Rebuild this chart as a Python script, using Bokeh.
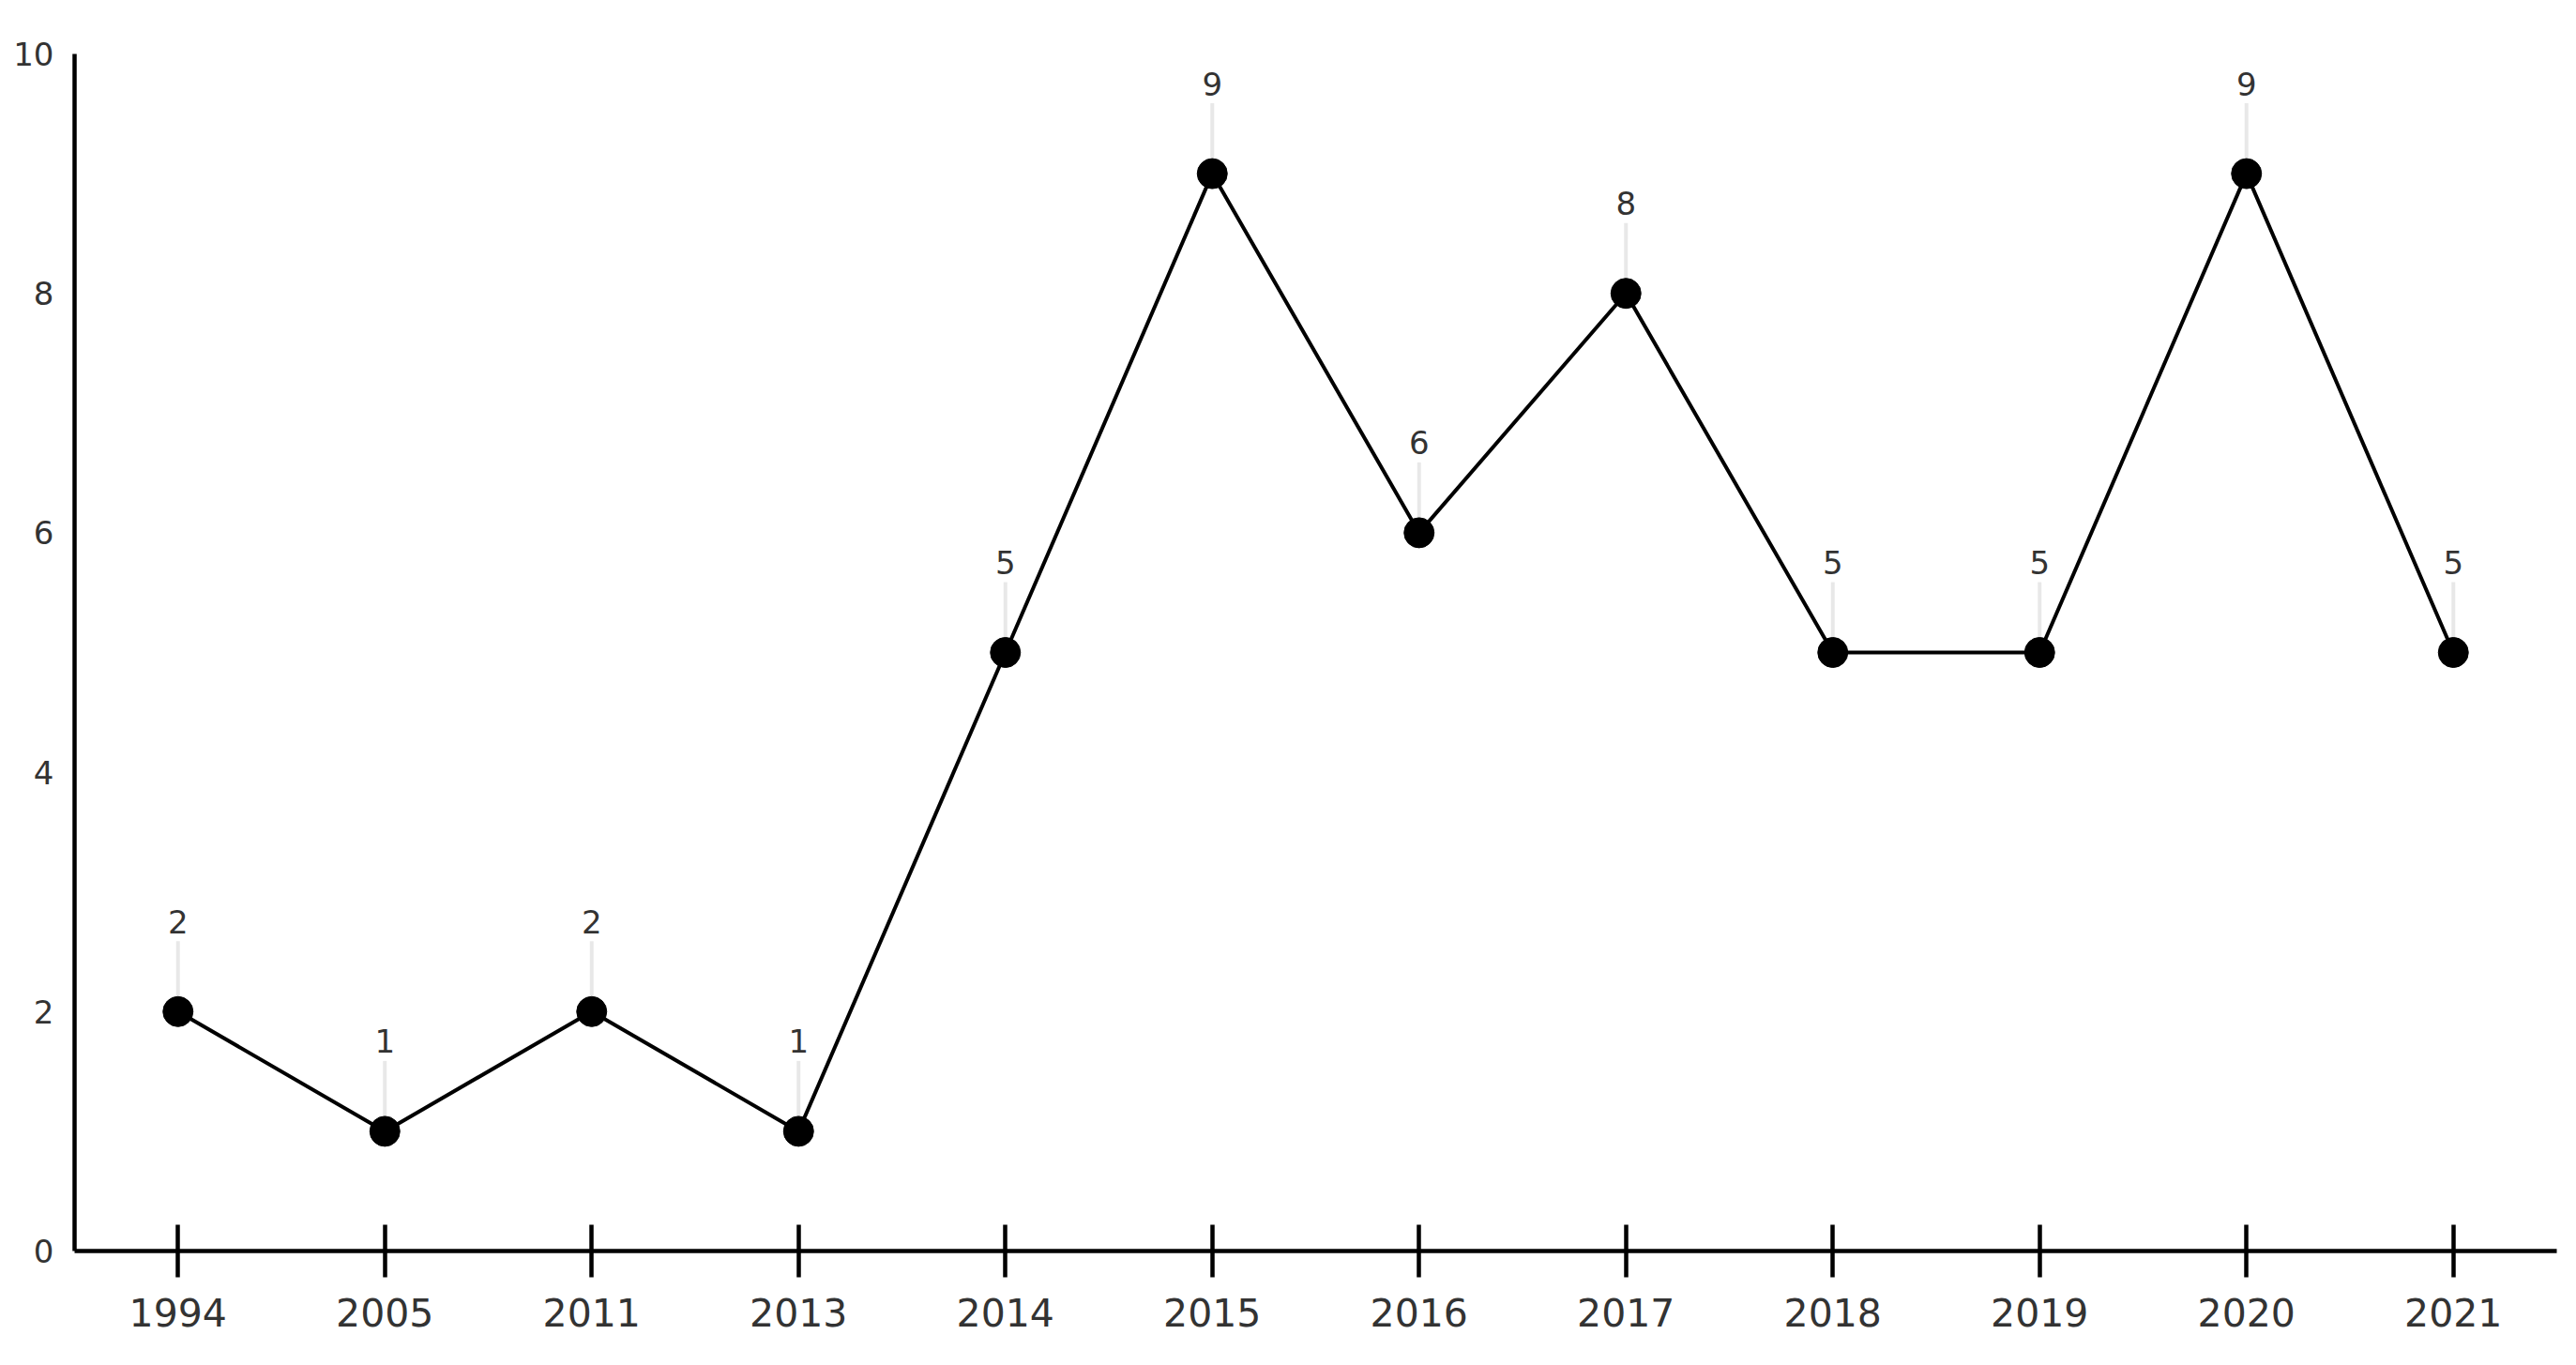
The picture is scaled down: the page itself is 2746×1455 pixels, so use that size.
from bokeh.plotting import figure
from bokeh.models import FactorRange, Range1d, FixedTicker, ColumnDataSource
from bokeh.core.properties import value
from bokeh.embed import file_html
from bokeh.resources import INLINE

years = ["1994", "2005", "2011", "2013", "2014", "2015", "2016", "2017", "2018", "2019", "2020", "2021"]
counts = [2, 1, 2, 1, 5, 9, 6, 8, 5, 5, 9, 5]
y_ticks = [0, 2, 4, 6, 8, 10]

FONT = "DejaVu Sans"
TXT = "#333333"
PX_PER_UNIT = 127.6
LEADER_PX = 75

src = ColumnDataSource(dict(
    x=years,
    y=counts,
    y_top=[c + LEADER_PX / PX_PER_UNIT for c in counts],
    label=[str(c) for c in counts],
))

p = figure(
    width=2730, height=1439,
    x_range=FactorRange(factors=years, range_padding=0),
    y_range=Range1d(0, 10),
    output_backend="svg", toolbar_location=None,
    min_border_left=79, min_border_right=5, min_border_top=57, min_border_bottom=106,
    background_fill_color="white", border_fill_color="white",
)
p.outline_line_color = None
p.xgrid.visible = False
p.ygrid.visible = False

# leader lines
p.segment(x0="x", y0="y", x1="x", y1="y_top", source=src, line_color="#e8e8e8", line_width=4)
# series
p.line(x="x", y="y", source=src, line_color="black", line_width=4)
p.scatter(x="x", y="y", source=src, size=32, fill_color="black", line_color="black")
# data labels
p.text(x="x", y="y", text="label", source=src, y_offset=-96,
       text_align="center", text_baseline="middle",
       text_font=value(FONT), text_font_size="34px", text_color=TXT)

# x axis
xa = p.xaxis[0]
xa.axis_line_color = "black"
xa.axis_line_width = 4.5
xa.major_tick_line_color = "black"
xa.major_tick_line_width = 4.5
xa.major_tick_in = 28
xa.major_tick_out = 28
xa.minor_tick_line_color = None
xa.major_label_standoff = 22
xa.major_label_text_font = FONT
xa.major_label_text_font_size = "41px"
xa.major_label_text_color = TXT

# y axis
ya = p.yaxis[0]
ya.ticker = FixedTicker(ticks=y_ticks)
ya.axis_line_color = "black"
ya.axis_line_width = 4.5
ya.major_tick_line_color = None
ya.major_tick_in = 0
ya.major_tick_out = 0
ya.minor_tick_line_color = None
ya.major_label_standoff = 22
ya.major_label_text_font = FONT
ya.major_label_text_font_size = "34px"
ya.major_label_text_color = TXT

open("out.html", "w").write(file_html(p, INLINE))
